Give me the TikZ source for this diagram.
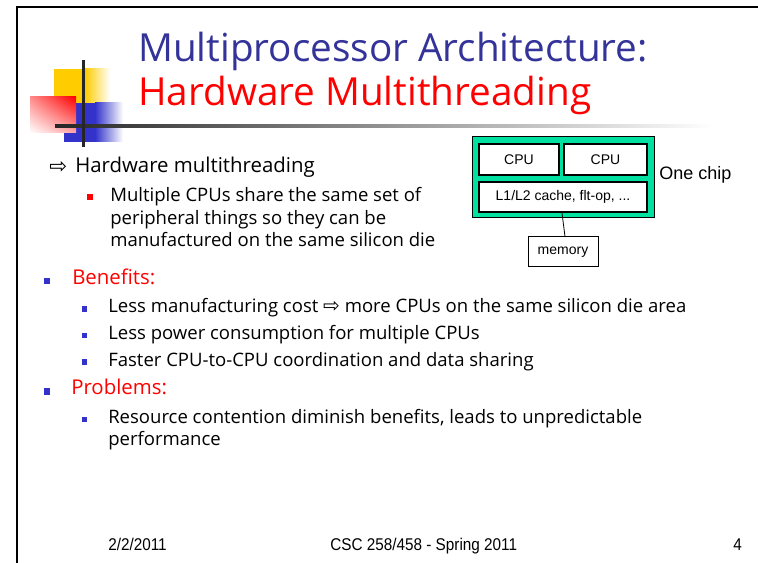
\documentclass[tikz,border=0pt]{standalone}
\usepackage{fontspec}
\setmainfont{Open Sans}
\newfontfamily\arialfont{Liberation Sans}
\newfontfamily\footfont[FakeStretch=0.9]{Liberation Sans}
\newfontfamily\symfont{DejaVu Sans}
\usetikzlibrary{positioning,shadings}

\definecolor{titleblue}{RGB}{51,51,153}
\definecolor{bulletblue}{RGB}{51,51,204}
\definecolor{decoyellow}{RGB}{255,204,0}
\definecolor{chipgreen}{RGB}{0,224,160}

\begin{document}
\begin{tikzpicture}[x=0.75pt,y=-0.75pt,
        txt/.style={anchor=base west,inner sep=0pt},
        lvl one/.style={txt,font=\fontsize{15.3}{18}\selectfont},
        lvl two/.style={txt,font=\fontsize{13.9}{16}\selectfont},
        bul/.style={fill=bulletblue,inner sep=0pt,minimum size=4.1pt},
        big bul/.style={bul,minimum size=5.2pt},
        box/.style={draw,line width=1.5pt,fill=white,inner sep=0pt,
            font=\arialfont\fontsize{10.5}{12}\selectfont},
        foot/.style={txt,font=\footfont\fontsize{12.75}{15}\selectfont}]
        \useasboundingbox (0,0) rectangle (758,563);

        % slide frame
        \draw[line width=1.9pt] (17,563) -- (17,7) -- (758,7);

        % corner squares
        \fill[decoyellow] (54,69) rectangle (85,103);
        \shade[left color=decoyellow,right color=white] (85,69) rectangle (110,103);
        \fill[bulletblue] (64,103) rectangle (95,142);
        \shade[left color=bulletblue,right color=white] (95,103) rectangle (123,142);
        \shade[upper right=red,upper left=red!45!white,
            lower right=red!35!white,lower left=white] (30,97) rectangle (76,133);
        \shade[left color=black!85,right color=white] (55,124.5) rectangle (713,128);
        \fill[black!85] (81.5,60) rectangle (84.5,147);

        % title
        \node[txt,font=\fontsize{29}{34}\selectfont,text=titleblue] (t1) at (138,62) {Multiprocessor Architecture:};
        \node[txt,font=\fontsize{29}{34}\selectfont,text=red] (t2) at (138,106) {Hardware Multithreading};

        % chip
        \node[draw,line width=0.75pt,fill=chipgreen,inner sep=0pt,
            minimum width=136.5pt,minimum height=60.75pt] (chip) at (563,177.5) {};
        \node[box,minimum width=60pt,minimum height=23.25pt] (cpu1) at (519,159.5) {CPU};
        \node[box,minimum width=62.25pt,minimum height=23.25pt] (cpu2) at (605.5,159.5) {CPU};
        \node[box,minimum width=126pt,minimum height=22.5pt] (cache) at (563,197) {L1/L2 cache, flt-op, ...};
        \node[box,line width=0.75pt,minimum width=52.5pt,minimum height=22.5pt] (mem) at (563,252) {memory};
        \node[txt,font=\arialfont\fontsize{13.5}{16}\selectfont] (one) at (659,180) {One chip};
        \path[line width=0.6pt]
        ([xshift=-0.75pt]cache.south) edge ([xshift=1.5pt]mem.north);

        % bullets
        \node[txt,font=\symfont\fontsize{16}{18}\selectfont] (arr) at (49,173.5) {⇨};
        \node[lvl one] (hw) at (75,172.7) {Hardware multithreading};
        \node[bul,fill=red,minimum size=4.5pt] (b0) at (90,197) {};
        \node[lvl two] (mc1) at (110,201.7) {Multiple CPUs share the same set of};
        \node[lvl two] (mc2) at (110,224.2) {peripheral things so they can be};
        \node[lvl two] (mc3) at (110,246.7) {manufactured on the same silicon die};

        \node[big bul] (b1) at (47,281) {};
        \node[lvl one,text=red] (ben) at (72,285) {Benefits:};
        \node[bul] (b2) at (84.5,309) {};
        \node[lvl two] (l1) at (108,313) {Less manufacturing cost {\symfont\fontsize{15}{16}\selectfont ⇨} more CPUs on the same silicon die area};
        \node[bul] (b3) at (84.5,335.5) {};
        \node[lvl two] (l2) at (108,340) {Less power consumption for multiple CPUs};
        \node[bul] (b4) at (84.5,362) {};
        \node[lvl two] (l3) at (108,366.7) {Faster CPU-to-CPU coordination and data sharing};

        \node[big bul] (b5) at (47,391.5) {};
        \node[lvl one,text=red] (prob) at (71,395) {Problems:};
        \node[bul] (b6) at (84.5,419.7) {};
        \node[lvl two] (r1) at (108,423.3) {Resource contention diminish benefits, leads to unpredictable};
        \node[lvl two] (r2) at (108,445.8) {performance};

        % footer
        \node[foot] (date) at (108,550) {2/2/2011};
        \node[foot] (course) at (330,550) {CSC 258/458 - Spring 2011};
        \node[foot] (page) at (733,550) {4};
\end{tikzpicture}
\end{document}
